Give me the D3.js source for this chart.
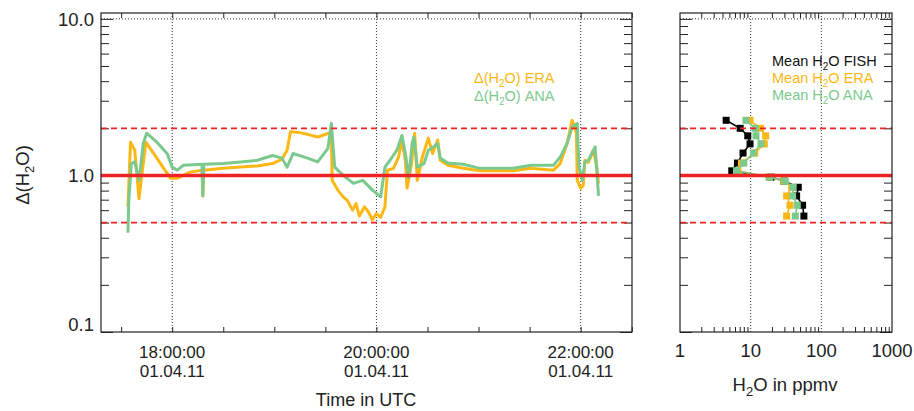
<!DOCTYPE html>
<html>
<head>
<meta charset="utf-8">
<script src="https://cdn.jsdelivr.net/npm/d3@7"></script>
<style>
  body { margin: 0; background: #fff; }
  text { font-family: "Liberation Sans", Arial, sans-serif; fill: #222; }
</style>
</head>
<body>
<div id="chart"></div>
<script>
let w = 914;
let h = 411;

// left panel: time series of Δ(H2O)
const eraTime = ["17:34:00","17:35:30","17:38:00","17:40:30","17:44:30","17:51:00","17:55:00","17:59:00","18:03:00","18:06:30",
  "18:10:30","18:17:30","18:18:00","18:18:30","18:30:00","18:40:00","18:50:00","18:59:00","19:04:30","19:07:30",
  "19:09:30","19:13:30","19:19:30","19:25:30","19:32:00","19:33:30","19:34:00","19:37:30","19:40:30","19:43:00",
  "19:46:00","19:48:00","19:50:00","19:53:00","19:55:30","19:57:30","20:00:00","20:02:30","20:05:00","20:06:30",
  "20:10:00","20:13:00","20:15:00","20:17:00","20:18:00","20:20:30","20:22:30","20:24:00","20:27:00","20:30:30",
  "20:33:00","20:36:00","20:37:30","20:42:00","20:51:00","21:01:00","21:20:30","21:30:30","21:44:00","21:48:00",
  "21:52:00","21:55:00","21:56:30","21:57:30","21:58:00","22:00:00","22:01:30","22:02:30","22:04:30","22:07:30",
  "22:09:30","22:10:30"];
const eraVal = [0.63,1.63,1.45,0.71,1.63,1.29,1.11,0.96,0.96,1.00,
  1.05,1.08,0.74,1.08,1.11,1.13,1.15,1.19,1.27,1.45,
  1.90,1.89,1.83,1.76,1.86,1.88,0.93,0.80,0.73,0.69,
  0.60,0.66,0.55,0.63,0.58,0.52,0.57,0.54,0.63,1.08,
  1.11,1.31,1.68,1.25,0.83,1.16,1.86,0.93,1.31,1.73,
  1.38,1.68,1.25,1.16,1.11,1.07,1.07,1.11,1.08,1.19,
  1.60,2.25,2.03,1.86,0.93,0.83,0.86,1.25,1.21,1.45,
  1.13,0.89];

const anaTime = ["17:34:00","17:34:30","17:36:00","17:38:00","17:40:30","17:43:00","17:45:00","17:51:00","17:57:00","18:00:00",
  "18:03:00","18:06:30","18:17:30","18:18:00","18:18:30","18:30:00","18:40:00","18:50:00","18:59:00","19:04:30",
  "19:07:30","19:11:00","19:19:30","19:25:30","19:31:30","19:33:30","19:35:30","19:40:30","19:46:30","19:52:00",
  "19:58:00","20:02:30","20:05:00","20:08:00","20:12:00","20:15:00","20:17:00","20:19:00","20:21:00","20:22:00",
  "20:24:00","20:28:00","20:30:30","20:33:30","20:36:00","20:37:30","20:42:00","20:51:00","21:01:00","21:20:30",
  "21:30:30","21:44:00","21:48:00","21:52:00","21:55:00","21:58:00","21:59:00","22:01:00","22:02:30","22:04:30",
  "22:08:30","22:10:30"];
const anaVal = [0.43,0.69,1.19,1.22,0.93,1.60,1.86,1.63,1.38,1.13,
  1.08,1.16,1.18,0.74,1.18,1.19,1.22,1.25,1.34,1.29,
  1.13,1.38,1.29,1.22,1.49,2.15,1.13,1.00,0.89,0.93,
  0.80,0.73,1.13,1.25,1.45,1.80,1.38,0.97,1.60,1.76,
  1.13,1.19,1.45,1.52,1.60,1.29,1.20,1.18,1.11,1.11,
  1.16,1.16,1.31,1.60,2.04,2.15,1.13,0.93,1.22,1.25,
  1.52,0.74];

// right panel: mean H2O profiles per Δ bin
const profBins = [2.25, 2.0, 1.79, 1.59, 1.39, 1.2, 1.07, 0.975, 0.92, 0.84, 0.74, 0.645, 0.55];
const fishMean = [4.5, 7.1, 9.1, 9.8, 7.8, 6.5, 5.4, 19.4, 29.6, 47.2, 44.7, 54.3, 56.7];
const eraMean  = [9.8, 13.8, 16.3, 15.6, 11.4, 7.4, 6.6, 18.3, 29.6, 38.0, 32.3, 36.0, 32.3];
const anaMean  = [8.6, 11.6, 11.9, 14.0, 10.9, 8.0, 6.3, 18.3, 30.9, 40.0, 39.3, 45.7, 42.8];

const yTicksMajor = [0.1, 1, 10];
const timeLabels = ["18:00:00", "20:00:00", "22:00:00"];
const dateLabel = "01.04.11";
const refLines = [2.0, 0.5];

const orange = "#fbb714";
const green = "#7cc98e";
const red = "#ee2424";

const parseT = s => new Date("2011-04-01T" + s + "Z");

let svg = d3.select('#chart')
    .append('svg')
    .attr('width', w)
    .attr('height', h);

let yTop = 13, yBot = 332;

let yScale = d3.scaleLog()
    .domain([0.1, 10.9])
    .range([yBot, yTop]);

let xScale = d3.scaleUtc()
    .domain([parseT("17:18:10"), parseT("22:30:10")])
    .range([101, 632]);

let xProf = d3.scaleLog()
    .domain([1, 1000])
    .range([680, 892]);

let minorY = [];
[0.1, 1].forEach(d => { for (let k = 2; k <= 9; k++) minorY.push(+(d * k).toFixed(2)); });
let minorP = [];
[1, 10, 100].forEach(d => { for (let k = 2; k <= 9; k++) minorP.push(d * k); });
let halfHours = d3.utcMinute.every(30).range(xScale.domain()[0], xScale.domain()[1]);

const clean = g => { g.select('.domain').remove(); g.selectAll('line').attr('stroke', '#222'); };

// ---------- left panel ----------
let L = [101, 632];

// gridlines
svg.append('g').selectAll('line')
    .data(timeLabels)
    .enter().append('line')
    .attr('x1', d => xScale(parseT(d))).attr('x2', d => xScale(parseT(d)))
    .attr('y1', yTop).attr('y2', yBot)
    .attr('stroke', '#333').attr('stroke-dasharray', '1,2');
svg.append('line')
    .attr('x1', L[0]).attr('x2', L[1]).attr('y1', yScale(10)).attr('y2', yScale(10))
    .attr('stroke', '#333').attr('stroke-dasharray', '1,2');

let line = d3.line()
    .x(d => xScale(parseT(d[0])))
    .y(d => yScale(d[1]));

svg.append('path')
    .datum(d3.zip(eraTime, eraVal))
    .attr('d', line)
    .attr('fill', 'none').attr('stroke', orange).attr('stroke-width', 3)
    .attr('stroke-linejoin', 'round');
svg.append('path')
    .datum(d3.zip(anaTime, anaVal))
    .attr('d', line)
    .attr('fill', 'none').attr('stroke', green).attr('stroke-width', 3)
    .attr('stroke-linejoin', 'round');

// axes of both panels
const panelAxes = (x0, x1, xs, minorX) => {
    svg.append('g').attr('transform', `translate(${x0},0)`)
        .call(d3.axisLeft(yScale).tickValues(minorY).tickSize(-8).tickFormat('')).call(clean);
    svg.append('g').attr('transform', `translate(${x1},0)`)
        .call(d3.axisRight(yScale).tickValues(minorY).tickSize(-8).tickFormat('')).call(clean);
    svg.append('g').attr('transform', `translate(${x0},0)`)
        .call(d3.axisLeft(yScale).tickValues(yTicksMajor).tickSize(-12).tickFormat('')).call(clean);
    svg.append('g').attr('transform', `translate(${x1},0)`)
        .call(d3.axisRight(yScale).tickValues(yTicksMajor).tickSize(-12).tickFormat('')).call(clean);
    svg.append('g').attr('transform', `translate(0,${yBot})`)
        .call(d3.axisBottom(xs).tickValues(minorX).tickSize(-5).tickFormat('')).call(clean);
    svg.append('g').attr('transform', `translate(0,${yTop})`)
        .call(d3.axisTop(xs).tickValues(minorX).tickSize(-5).tickFormat('')).call(clean);
};
panelAxes(L[0], L[1], xScale, halfHours);

// reference lines
const refs = (x0, x1) => {
    svg.append('g').selectAll('line')
        .data(refLines)
        .enter().append('line')
        .attr('x1', x0).attr('x2', x1)
        .attr('y1', d => yScale(d)).attr('y2', d => yScale(d))
        .attr('stroke', red).attr('stroke-width', 1.8).attr('stroke-dasharray', '6,4');
    svg.append('line')
        .attr('x1', x0).attr('x2', x1).attr('y1', yScale(1)).attr('y2', yScale(1))
        .attr('stroke', red).attr('stroke-width', 3.4);
};
refs(L[0], L[1]);

svg.append('rect')
    .attr('x', L[0]).attr('y', yTop).attr('width', L[1] - L[0]).attr('height', yBot - yTop)
    .attr('fill', 'none').attr('stroke', '#222').attr('stroke-width', 1.2);

// y labels
svg.append('g').selectAll('text')
    .data(yTicksMajor)
    .enter().append('text')
    .attr('x', 94)
    .attr('y', d => d === 0.1 ? yBot : yScale(d))
    .attr('dy', d => d === 0.1 ? '-0.05em' : '0.36em')
    .attr('text-anchor', 'end')
    .style('font-size', '18.5px')
    .text(d3.format('.1f'));

// time labels (two stacked lines under each gridline)
let tl = svg.append('g').selectAll('text')
    .data(timeLabels)
    .enter().append('text')
    .attr('text-anchor', 'middle')
    .style('font-size', '17px');
tl.append('tspan').attr('x', d => xScale(parseT(d))).attr('y', 358).text(d => d);
tl.append('tspan').attr('x', d => xScale(parseT(d))).attr('y', 377).text(dateLabel);

svg.append('text')
    .attr('x', 366).attr('y', 406)
    .attr('text-anchor', 'middle')
    .style('font-size', '18px')
    .text('Time in UTC');

let yl = svg.append('text')
    .attr('transform', 'translate(29,175) rotate(-90)')
    .attr('text-anchor', 'middle')
    .style('font-size', '18.5px');
yl.append('tspan').text('Δ(H');
yl.append('tspan').attr('dy', 5).style('font-size', '13px').text('2');
yl.append('tspan').attr('dy', -5).text('O)');

// legend left
const sub = (sel, a, b, col) => {
    sel.style('fill', col);
    sel.append('tspan').text(a);
    sel.append('tspan').attr('dy', 4).style('font-size', '10px').text('2');
    sel.append('tspan').attr('dy', -4).text(b);
};
svg.append('text').attr('x', 474).attr('y', 83).style('font-size', '14.5px')
    .call(s => sub(s, 'Δ(H', 'O) ERA', orange));
svg.append('text').attr('x', 474).attr('y', 101).style('font-size', '14.5px')
    .call(s => sub(s, 'Δ(H', 'O) ANA', green));

// ---------- right panel ----------
let R = [680, 892];

svg.append('g').selectAll('line')
    .data([10, 100])
    .enter().append('line')
    .attr('x1', d => xProf(d)).attr('x2', d => xProf(d))
    .attr('y1', yTop).attr('y2', yBot)
    .attr('stroke', '#333').attr('stroke-dasharray', '1,2');
svg.append('line')
    .attr('x1', R[0]).attr('x2', R[1]).attr('y1', yScale(10)).attr('y2', yScale(10))
    .attr('stroke', '#333').attr('stroke-dasharray', '1,2');

panelAxes(R[0], R[1], xProf, minorP);

let pLine = d3.line()
    .x(d => xProf(d[0]))
    .y(d => yScale(d[1]));

[[fishMean, '#000'], [eraMean, orange], [anaMean, green]].forEach(([vals, col]) => {
    let pts = d3.zip(vals, profBins);
    svg.append('path')
        .datum(pts)
        .attr('d', pLine)
        .attr('fill', 'none').attr('stroke', col).attr('stroke-width', 1.6);
    svg.append('g').selectAll('rect')
        .data(pts)
        .enter().append('rect')
        .attr('x', d => xProf(d[0]) - 3.5)
        .attr('y', d => yScale(d[1]) - 3.5)
        .attr('width', 7).attr('height', 7)
        .attr('fill', col);
});

refs(R[0], R[1]);

svg.append('rect')
    .attr('x', R[0]).attr('y', yTop).attr('width', R[1] - R[0]).attr('height', yBot - yTop)
    .attr('fill', 'none').attr('stroke', '#222').attr('stroke-width', 1.2);

svg.append('g').selectAll('text')
    .data([1, 10, 100, 1000])
    .enter().append('text')
    .attr('x', d => xProf(d)).attr('y', 357)
    .attr('text-anchor', 'middle')
    .style('font-size', '18.5px')
    .text(d => d);

let xt = svg.append('text')
    .attr('x', 785).attr('y', 391)
    .attr('text-anchor', 'middle')
    .style('font-size', '18.5px');
xt.append('tspan').text('H');
xt.append('tspan').attr('dy', 5).style('font-size', '13px').text('2');
xt.append('tspan').attr('dy', -5).text('O in ppmv');

// legend right
svg.append('text').attr('x', 772).attr('y', 66).style('font-size', '14.5px')
    .call(s => sub(s, 'Mean H', 'O FISH', '#111'));
svg.append('text').attr('x', 772).attr('y', 83).style('font-size', '14.5px')
    .call(s => sub(s, 'Mean H', 'O ERA', orange));
svg.append('text').attr('x', 772).attr('y', 100).style('font-size', '14.5px')
    .call(s => sub(s, 'Mean H', 'O ANA', green));
</script>
</body>
</html>
